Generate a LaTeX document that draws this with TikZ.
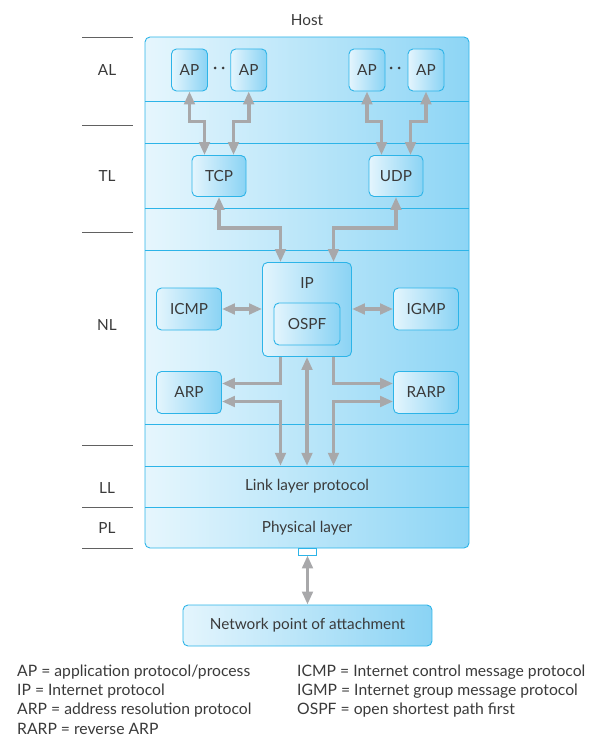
\documentclass[tikz,border=0pt]{standalone}
\usepackage{fontspec}
\setmainfont{Lato}
\usepackage{tikz}
\usetikzlibrary{arrows.meta, calc}
\definecolor{hostl}{HTML}{E6F6FD}
\definecolor{hostr}{HTML}{8DD5F5}
\definecolor{boxl}{HTML}{E4F5FD}
\definecolor{boxr}{HTML}{8AD3F4}
\definecolor{edge}{HTML}{2DB4E8}
\definecolor{arrgray}{HTML}{A8A8AA}
\definecolor{ink}{HTML}{3A3A3A}

\begin{document}
\begin{tikzpicture}[x=1pt, y=-1pt, font=\fontsize{15.3}{17}\selectfont,
  txt/.style={text=ink, inner sep=0},
  legend/.style={text=ink, inner sep=0, anchor=west, font=\fontsize{15.7}{18}\selectfont},
  proto/.style={draw=edge, line width=0.9pt, rounded corners=5pt, left color=boxl, right color=boxr, text=ink, inner sep=0},
  garrow/.style={draw=arrgray, line width=3.8pt, {Triangle[length=13pt,width=10.5pt]}-{Triangle[length=13pt,width=10.5pt]}},
  garrowone/.style={draw=arrgray, line width=3.8pt, -{Triangle[length=13pt,width=10.5pt]}}]
\useasboundingbox (0,0) rectangle (593,743);
% host and its layers
\node[txt] (host) at (307,20) {Host};
\draw[edge, line width=0.9pt, rounded corners=5pt, left color=hostl, right color=hostr] (145,37) rectangle (469,548);
\foreach \y in {101,143,208,250,424,466,507}{
\draw[edge, line width=0.8pt] (145,\y) -- (469,\y);
}
\foreach \y in {37,125,232,445,507,548}{
\draw[ink!80, line width=0.8pt] (82,\y) -- (133,\y);
}
\foreach \y/\lab in {70/AL, 176/TL, 325/NL, 488/LL, 528/PL}{
\node[txt] (\lab) at (107,\y) {\lab};
}
\node[txt, minimum width=324pt, minimum height=41pt] (llp) at (307,486.5) {Link layer protocol};
\node[txt] (phy) at (307,528) {Physical layer};
% protocol boxes
\foreach \n/\x in {ap1/189.5, ap2/248.7, ap3/367, ap4/426}{
\node[proto, minimum width=36pt, minimum height=42pt] (\n) at (\x,70) {AP};
}
\foreach \x in {215,223,391,399}{
\fill[ink] (\x,68) circle (1.5pt);
}
\node[proto, minimum width=54pt, minimum height=41pt] (tcp) at (219,176) {TCP};
\node[proto, minimum width=54pt, minimum height=41pt] (udp) at (396,176) {UDP};
\node[proto, minimum width=89pt, minimum height=94pt] (ip) at (307,309.5) {};
\node[txt] (iplab) at (307,283) {IP};
\node[proto, minimum width=66pt, minimum height=42pt] (ospf) at (307,324) {OSPF};
\foreach \n/\x/\y/\lab in {icmp/189/309/ICMP, igmp/426/309/IGMP, arp/189/392.5/ARP, rarp/426/392.5/RARP}{
\node[proto, minimum width=65pt, minimum height=42pt] (\n) at (\x,\y) {\lab};
}
\node[proto, minimum width=249pt, minimum height=41pt] (npa) at (307.5,625.5) {Network point of attachment};
\node[draw=edge, fill=white, line width=0.9pt, minimum width=18pt, minimum height=7pt, inner sep=0] (port) at (307.5,551.5) {};
% arrows
\draw[garrow] (ap1.south) -- ++(0,30) -| ([xshift=-14.5pt]tcp.north);
\draw[garrow] (ap2.south) -- ++(0,30) -| ([xshift=14.5pt]tcp.north);
\draw[garrow] (ap3.south) -- ++(0,30) -| ([xshift=-14.5pt]udp.north);
\draw[garrow] (ap4.south) -- ++(0,30) -| ([xshift=14.5pt]udp.north);
\draw[garrow] (tcp.south) -- ++(0,31) -| ([xshift=-26.5pt]ip.north);
\draw[garrow] (udp.south) -- ++(0,31) -| ([xshift=26.5pt]ip.north);
\draw[garrow] (icmp.east) -- (ip.west |- icmp.east);
\draw[garrow] (igmp.west) -- (ip.east |- igmp.west);
\draw[garrowone] ([xshift=-26.5pt]ip.south) |- ([yshift=9pt]arp.east);
\draw[garrowone] ([xshift=26.5pt]ip.south) |- ([yshift=9pt]rarp.west);
\draw[garrow] ([yshift=-9pt]arp.east) -| ([xshift=-26.5pt]llp.north);
\draw[garrow] ([yshift=-9pt]rarp.west) -| ([xshift=26.5pt]llp.north);
\draw[garrow] (ip.south) -- (llp.north);
\draw[garrow] (port.south) -- (npa.north);
% legend
\foreach \y/\n/\lab in {672/leg1/{AP = application protocol/process}, 691/leg2/{IP = Internet protocol}, 710/leg3/{ARP = address resolution protocol}, 729/leg4/{RARP = reverse ARP}}{
\node[legend] (\n) at (17,\y) {\lab};
}
\foreach \y/\n/\lab in {672/leg5/{ICMP = Internet control message protocol}, 691/leg6/{IGMP = Internet group message protocol}, 710/leg7/{OSPF = open shortest path first}}{
\node[legend] (\n) at (297,\y) {\lab};
}
\end{tikzpicture}
\end{document}
